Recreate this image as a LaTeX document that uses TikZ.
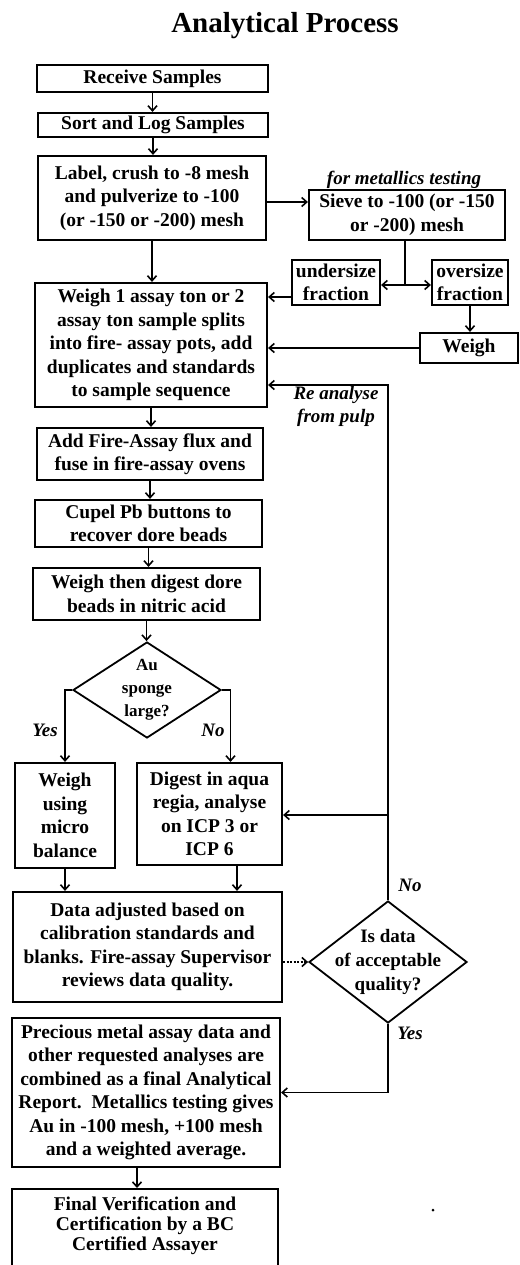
\documentclass[tikz,border=0pt]{standalone}
\usepackage{fontspec}
\setmainfont{Liberation Serif}
\usetikzlibrary{shapes.geometric,arrows.meta,calc}
\newcommand\ftBox{\fontsize{19.5}{23.5}\selectfont\bfseries}
\newcommand\ftFin{\fontsize{19.5}{20}\selectfont\bfseries}
\newcommand\ftLab{\fontsize{19}{23}\selectfont\bfseries\itshape}
\newcommand\ftTitle{\fontsize{29}{32}\selectfont\bfseries}
\newcommand\ftAu{\fontsize{17}{23}\selectfont\bfseries}
\newcommand\ftQ{\fontsize{19}{24}\selectfont\bfseries}
\begin{document}
\begin{tikzpicture}[x=1pt,y=-1pt,
  boxn/.style={draw, line width=2.2pt, inner sep=0.5pt, align=center, font=\ftBox},
  dia/.style={draw, shape=diamond, line width=1.8pt, inner sep=0pt},
  conn/.style={line width=1.6pt},
  arr/.style={conn, -{Straight Barb[length=5pt,width=9pt]}},
  lbl/.style={font=\ftLab, inner sep=0pt, align=center}]
\useasboundingbox (0,0) rectangle (519,1265);
\node[font=\ftTitle, inner sep=0pt] (title) at (285,26) {Analytical Process};

\node[boxn, minimum width=231pt, minimum height=27pt] (rec) at (152.5,78.5) {Receive Samples};
\node[boxn, minimum width=230pt, minimum height=24pt] (sort) at (153,125) {Sort and Log Samples};
\node[boxn, minimum width=228pt, minimum height=84pt] (lab) at (152,198) {Label, crush to -8 mesh\\and pulverize to -100\\(or -150 or -200) mesh};
\node[boxn, minimum width=196pt, minimum height=50pt] (sieve) at (407,215) {Sieve to -100 (or -150\\or -200) mesh};
\node[lbl] (met) at (404,180) {for metallics testing};
\node[boxn, minimum width=88pt, minimum height=45pt] (und) at (336,282.5) {undersize\\fraction};
\node[boxn, minimum width=76pt, minimum height=45pt] (ovr) at (470,282.5) {oversize\\fraction};
\node[boxn, minimum width=98pt, minimum height=30pt] (wgh) at (469,348) {Weigh};
\node[boxn, minimum width=232pt, minimum height=124pt] (w1) at (151,345) {Weigh 1 assay ton or 2\\assay ton sample splits\\into fire- assay pots, add\\duplicates and standards\\to sample sequence};
\node[boxn, minimum width=226pt, minimum height=52pt] (flux) at (150,454) {Add Fire-Assay flux and\\fuse in fire-assay ovens};
\node[boxn, minimum width=227pt, minimum height=47pt] (cup) at (148.5,523.5) {Cupel Pb buttons to\\recover dore beads};
\node[boxn, minimum width=227pt, minimum height=52pt] (dig) at (146.5,594) {Weigh then digest dore\\beads in nitric acid};
\node[dia, minimum width=148pt, minimum height=96pt] (au) at (147,690) {};
\node[font=\ftAu, align=center, inner sep=0pt] (aut) at (au.center) {Au\\sponge\\large?};
\node[boxn, minimum width=100pt, minimum height=105pt] (wm) at (65,815.5) {Weigh\\using\\micro\\balance};
\node[boxn, minimum width=145pt, minimum height=102pt] (dg) at (209.5,814) {Digest in aqua\\regia, analyse\\on ICP 3 or\\ICP 6};
\node[boxn, minimum width=269pt, minimum height=110pt] (data) at (147.5,947) {Data adjusted based on\\calibration standards and\\blanks. Fire-assay Supervisor\\reviews data quality.};
\node[dia, minimum width=158pt, minimum height=122pt] (qual) at (388,962) {};
\node[font=\ftQ, align=center, inner sep=0pt] (qualt) at (qual.center) {Is data\\of acceptable\\quality?};
\node[boxn, minimum width=268pt, minimum height=149pt] (rep) at (146,1092.5) {Precious metal assay data and\\other requested analyses are\\combined as a final Analytical\\Report.\ \ Metallics testing gives\\Au in -100 mesh, +100 mesh\\and a weighted average.};
\node[draw, line width=2.2pt, minimum width=266pt, minimum height=100pt, anchor=north, inner sep=0pt] (finb) at (145,1188) {};
\node[font=\ftFin, align=center, anchor=north, inner sep=0pt] (fin) at (145,1197) {Final Verification and\\Certification by a BC\\Certified Assayer};

\node[lbl] (yes1) at (45,730) {Yes};
\node[lbl] (no1) at (213,730) {No};
\node[lbl] (no2) at (410,885) {No};
\node[lbl] (yes2) at (410,1033) {Yes};
\node[lbl] (rean) at (336,406.5) {Re analyse\\from pulp};

\draw[arr] (rec.south) -- (rec.south |- sort.north);
\draw[arr] (sort.south) -- (sort.south |- lab.north);
\coordinate (p1) at ([yshift=-4pt]lab.east);
\draw[arr] (p1) -- (p1 -| sieve.west);
\draw[arr] (lab.south) -- (lab.south |- w1.north);
\coordinate (j) at (405,285);
\draw[conn] (j |- sieve.south) -- (j);
\draw[arr] (j) -- (j -| und.east);
\draw[arr] (j) -- (j -| ovr.west);
\coordinate (p2) at ([yshift=-14.5pt]und.west);
\draw[arr] (p2) -- (p2 -| w1.east);
\draw[arr] (ovr.south) -- (ovr.south |- wgh.north);
\draw[arr] (wgh.west) -- (wgh.west -| w1.east);
\coordinate (ra) at (388,385);
\draw[arr] (qual.north) -- (ra) -- (ra -| w1.east);
\coordinate (rb) at (388,815);
\draw[arr] (rb) -- (rb -| dg.east);
\draw[arr] (w1.south) -- (w1.south |- flux.north);
\draw[arr] (flux.south) -- (flux.south |- cup.north);
\draw[arr] (cup.south) -- (cup.south |- dig.north);
\draw[arr] (dig.south) -- (dig.south |- au.north);
\draw[arr] (au.west) -| (wm.north);
\coordinate (p3) at ([xshift=21pt]dg.north);
\draw[arr] (au.east) -| (p3);
\draw[arr] (wm.south) -- (wm.south |- data.north);
\coordinate (p4) at ([xshift=27.5pt]dg.south);
\draw[arr] (p4) -- (p4 |- data.north);
\draw[arr, dash pattern=on 2pt off 1.5pt] (qual.west -| data.east) -- (qual.west);
\draw[arr] (qual.south) |- (rep.east);
\coordinate (p5) at ([xshift=-9pt]rep.south);
\draw[arr] (p5) -- (p5 |- finb.north);
\fill (433,1210) circle (1.5pt);
\end{tikzpicture}
\end{document}
